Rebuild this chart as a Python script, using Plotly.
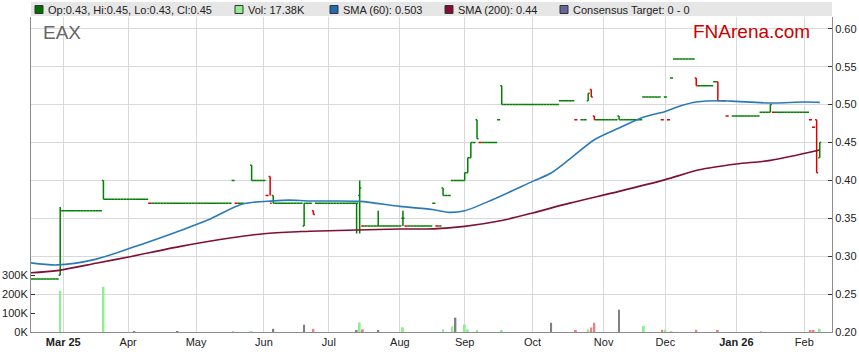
import pandas as pd
import plotly.graph_objects as go

# ---------------- data ----------------
days = pd.bdate_range("2025-02-17", "2026-02-09")  # weekday calendar of the chart

closes = [
    0.27, 0.27, 0.27, 0.27, 0.27,
    0.27, 0.27, 0.27, 0.27, 0.36,
    0.36, 0.36, 0.36, 0.36, 0.36,
    0.36, 0.36, 0.36, 0.36, 0.36,
    0.36, 0.36, 0.36, 0.375, 0.375,
    0.375, 0.375, 0.375, 0.375, 0.375,
    0.375, 0.375, 0.375, 0.375, 0.375,
    0.375, 0.375, 0.375, 0.37, 0.37,
    0.37, 0.37, 0.37, 0.37, 0.37,
    0.37, 0.37, 0.37, 0.37, 0.37,
    0.37, 0.37, 0.37, 0.37, 0.37,
    0.37, 0.37, 0.37, 0.37, 0.37,
    0.37, 0.37, 0.37, 0.37, 0.37,
    0.40, 0.37, 0.37, 0.37, None,
    None, 0.40, 0.40, 0.40, 0.40,
    0.40, 0.38, 0.37, 0.37, 0.37,
    0.37, 0.37, 0.37, 0.37, 0.37,
    0.37, 0.37, 0.37, 0.37, 0.37,
    0.37, 0.355, 0.37, 0.37, 0.37,
    0.37, 0.37, 0.37, 0.37, 0.37,
    0.37, 0.37, 0.37, 0.37, 0.37,
    0.37, 0.39, 0.34, 0.34, 0.34,
    0.34, 0.34, 0.34, 0.34, 0.34,
    0.34, 0.34, 0.34, 0.34, 0.34,
    0.35, 0.34, 0.34, 0.34, 0.34,
    0.34, 0.34, 0.34, 0.34, 0.34,
    0.37, 0.34, 0.34, 0.38, 0.38,
    0.38, 0.40, 0.40, 0.40, 0.40,
    0.41, 0.43, 0.45, 0.45, 0.455,
    0.45, 0.45, 0.45, 0.45, 0.45,
    0.45, 0.48, 0.50, 0.50, 0.50,
    0.50, 0.50, 0.50, 0.50, 0.50,
    0.50, 0.50, 0.50, 0.50, 0.50,
    0.50, 0.50, 0.50, 0.50, 0.50,
    0.50, 0.505, 0.505, 0.505, 0.505,
    0.505, 0.48, None, 0.48, 0.48,
    0.515, 0.51, 0.48, 0.48, 0.48,
    0.48, 0.48, 0.48, 0.48, 0.48,
    0.48, 0.48, 0.48, 0.48, 0.48,
    0.48, 0.48, 0.48, 0.51, 0.51,
    0.51, 0.51, 0.51, 0.51, 0.48,
    0.51, 0.48, 0.535, 0.56, 0.56,
    0.56, 0.56, 0.56, 0.56, 0.56,
    0.525, 0.525, 0.525, 0.525, 0.525,
    0.525, 0.53, 0.505, 0.505, 0.505,
    0.485, None, 0.485, 0.485, 0.485,
    0.485, 0.485, 0.485, 0.485, 0.485,
    0.485, 0.49, 0.49, 0.49, 0.50,
    0.49, 0.49, 0.49, 0.49, 0.49,
    0.49, 0.49, 0.49, 0.49, 0.49,
    0.49, 0.49, 0.48, 0.47, 0.41,
    0.45,
]

# days whose open/high/low differ from the close (all other days: O=H=L=C)
bar_dates = ["2025-02-28", "2025-03-20", "2025-05-27", "2025-06-04", "2025-06-05",
             "2025-06-19", "2025-06-24", "2025-07-14", "2025-07-15", "2025-07-23",
             "2025-08-04", "2025-08-21", "2025-09-01", "2025-09-02", "2025-09-03",
             "2025-09-05", "2025-09-17", "2025-10-27", "2025-10-28", "2025-10-29",
             "2025-11-10", "2025-12-15", "2025-12-24", "2026-01-16", "2026-02-06",
             "2026-02-09"]
bar_open = [0.275, 0.40, 0.42, 0.405, 0.38, 0.34, 0.36, 0.37, 0.38, 0.34,
            0.35, 0.39, 0.40, 0.41, 0.43, 0.48, 0.525, 0.505, 0.52, 0.485,
            0.485, 0.535, 0.53, 0.49, 0.48, 0.43]
bar_high = [0.365, 0.40, 0.42, 0.405, 0.38, 0.37, 0.36, 0.37, 0.40, 0.36,
            0.36, 0.39, 0.41, 0.43, 0.45, 0.48, 0.525, 0.515, 0.52, 0.485,
            0.485, 0.535, 0.53, 0.50, 0.48, 0.45]
bar_low = [0.275, 0.375, 0.40, 0.38, 0.37, 0.34, 0.355, 0.33, 0.33, 0.34,
           0.34, 0.38, 0.40, 0.41, 0.43, 0.455, 0.50, 0.505, 0.51, 0.48,
           0.48, 0.525, 0.505, 0.49, 0.41, 0.43]

vol_dates = ["2025-02-28", "2025-03-20", "2025-04-03", "2025-04-23", "2025-05-19",
             "2025-05-27", "2025-06-05", "2025-06-19", "2025-06-24", "2025-07-14",
             "2025-07-15", "2025-07-16", "2025-07-23", "2025-08-04", "2025-08-21",
             "2025-08-26", "2025-08-27", "2025-09-01", "2025-09-02", "2025-09-05",
             "2025-09-17", "2025-10-09", "2025-10-21", "2025-10-27", "2025-10-28",
             "2025-10-29", "2025-11-10", "2025-11-20", "2025-11-28", "2025-12-01",
             "2025-12-03", "2025-12-15", "2025-12-24", "2026-01-13", "2026-02-04",
             "2026-02-05", "2026-02-09"]
vol_values = [219000, 240000, 5000, 3000, 3000, 3000, 17000, 39000, 17000, 8000,
              51000, 14000, 6000, 25000, 14000, 30000, 76000, 39000, 14000, 7000,
              6000, 49000, 7000, 14000, 24000, 49000, 118000, 33000, 12000, 12000,
              5000, 12000, 6000, 5000, 6000, 6000, 17380]

sma60_dates = ["2025-02-14", "2025-02-27", "2025-03-17", "2025-04-02", "2025-04-24",
               "2025-05-07", "2025-05-22", "2025-06-05", "2025-06-12", "2025-06-23",
               "2025-07-15", "2025-08-01", "2025-08-18", "2025-08-25", "2025-09-01",
               "2025-09-12", "2025-10-01", "2025-10-09", "2025-10-17",
               "2025-10-29", "2025-11-10", "2025-11-20", "2025-12-01", "2025-12-08",
               "2025-12-15", "2025-12-25", "2026-01-01", "2026-01-16", "2026-02-02",
               "2026-02-09"]
sma60_values = [0.2925, 0.2885, 0.2955, 0.311, 0.334, 0.348, 0.369, 0.373, 0.374, 0.3728,
                0.3723, 0.3657, 0.3613, 0.3578, 0.360, 0.3745, 0.3987, 0.4098, 0.428,
                0.4537, 0.4691, 0.4836, 0.491, 0.4985, 0.5034, 0.5051, 0.5042, 0.5021, 0.5034,
                0.503]

sma200_dates = ["2025-02-14", "2025-02-27", "2025-03-18", "2025-04-02", "2025-04-24",
                "2025-05-16", "2025-06-02", "2025-06-18", "2025-06-23", "2025-08-01",
                "2025-08-18", "2025-09-01", "2025-09-17", "2025-10-01", "2025-10-17",
                "2025-11-10", "2025-12-01", "2025-12-16", "2026-01-01", "2026-01-16",
                "2026-02-09"]
sma200_values = [0.2775, 0.281, 0.291, 0.2997, 0.313, 0.324, 0.3297, 0.3325, 0.333, 0.3359,
                 0.336, 0.3393, 0.347, 0.357, 0.370, 0.3855, 0.401, 0.414, 0.4216, 0.4264,
                 0.44]

month_ticks = ["2025-03-03", "2025-04-01", "2025-05-01", "2025-06-02", "2025-07-01",
               "2025-08-01", "2025-09-01", "2025-10-01", "2025-11-03", "2025-12-01",
               "2026-01-01", "2026-02-02"]
month_labels = ["<b>Mar 25</b>", "Apr", "May", "Jun", "Jul", "Aug", "Sep", "Oct", "Nov",
                "Dec", "<b>Jan 26</b>", "Feb"]

price_ticks = [0.20, 0.25, 0.30, 0.35, 0.40, 0.45, 0.50, 0.55, 0.60]
vol_ticks = [0, 100000, 200000, 300000]
vol_labels = ["0K", "100K", "200K", "300K"]

legend_texts = ["Op:0.43, Hi:0.45, Lo:0.43, Cl:0.45", "Vol: 17.38K", "SMA (60): 0.503",
                "SMA (200): 0.44", "Consensus Target: 0 - 0"]

# ---------------- styles ----------------
GREEN = "#008000"
RED = "#e00000"
VOL_UP = "#90ee90"
VOL_DOWN = "#f08080"
VOL_FLAT = "#808080"
SMA60_C = "#2a7ab9"
SMA200_C = "#800f35"
GRID = "#d9d9d9"
AXIS = "#8c8c8c"
FONT = "Arial, Liberation Sans, sans-serif"
legend_colors = ["#007000", "#90ee90", "#1f6cb0", "#800f35", "#666699"]
legend_px = [35, 235, 330, 445, 560]

NOON = pd.Timedelta(hours=12)

# ---------------- build table ----------------
df = pd.DataFrame({"date": days, "close": closes})
df = df.dropna().reset_index(drop=True)
df["open"] = df["close"]
df["high"] = df["close"]
df["low"] = df["close"]
bars = pd.DataFrame({"date": pd.to_datetime(bar_dates), "o": bar_open, "h": bar_high, "l": bar_low})
df = df.merge(bars, on="date", how="left")
m = df["o"].notna()
df.loc[m, "open"] = df.loc[m, "o"]
df.loc[m, "high"] = df.loc[m, "h"]
df.loc[m, "low"] = df.loc[m, "l"]
df["prev"] = df["close"].shift(1)
df["up"] = (df["close"] >= df["prev"]) | df["prev"].isna()
df["x"] = df["date"] + NOON

vol = pd.DataFrame({"date": pd.to_datetime(vol_dates), "v": vol_values})
vol = vol.merge(df[["date", "close", "prev"]], on="date", how="left")
def vcol(r):
    if pd.isna(r["prev"]) or r["close"] > r["prev"]:
        return VOL_UP
    if r["close"] < r["prev"]:
        return VOL_DOWN
    return VOL_FLAT
vol["c"] = vol.apply(vcol, axis=1)

fig = go.Figure()

# volume (left axis)
fig.add_trace(go.Bar(x=vol["date"] + NOON, y=vol["v"], marker_color=vol["c"],
                     marker_line_width=0, width=0.62 * 86400000, yaxis="y2",
                     hoverinfo="skip", showlegend=False))

# SMA lines
fig.add_trace(go.Scatter(x=pd.to_datetime(sma200_dates) + NOON, y=sma200_values, mode="lines",
                         line=dict(color=SMA200_C, width=1.6, shape="spline", smoothing=0.8),
                         hoverinfo="skip", showlegend=False))
fig.add_trace(go.Scatter(x=pd.to_datetime(sma60_dates) + NOON, y=sma60_values, mode="lines",
                         line=dict(color=SMA60_C, width=1.6, shape="spline", smoothing=0.8),
                         hoverinfo="skip", showlegend=False))

# OHLC, coloured by close vs previous close
for sel, col in ((df["up"], GREEN), (~df["up"], RED)):
    d = df[sel]
    fig.add_trace(go.Ohlc(x=d["x"], open=d["open"], high=d["high"], low=d["low"], close=d["close"],
                          increasing=dict(line=dict(color=col, width=1.5)),
                          decreasing=dict(line=dict(color=col, width=1.5)),
                          tickwidth=0.5, hoverinfo="skip", showlegend=False))

# ---------------- layout ----------------
L, R, T, B = 31, 27, 17, 31
W, H = 859, 363
ph = H - T - B
pw = W - L - R
px_per_unit = 37.9 / 0.05
top_price = 0.20 + ph / px_per_unit
vol_top = ph / 18.87 * 100000

def px_x(X):
    return (X - L) / pw

def px_y(Y):
    return (H - B - Y) / ph

shapes = [dict(type="rect", xref="paper", yref="paper", x0=0, x1=1, y0=px_y(16), y1=px_y(2),
               fillcolor="#e6e6e6", line=dict(width=0), layer="below")]
annotations = []
for txt, col, X in zip(legend_texts, legend_colors, legend_px):
    shapes.append(dict(type="rect", xref="paper", yref="paper", x0=px_x(X), x1=px_x(X + 8),
                       y0=px_y(13.5), y1=px_y(5.5), fillcolor=col, line=dict(color="#333333", width=1)))
    annotations.append(dict(text=txt, xref="paper", yref="paper", x=px_x(X + 11), y=px_y(9.5),
                            xanchor="left", yanchor="middle", showarrow=False,
                            font=dict(family=FONT, size=11, color="#222222")))
annotations.append(dict(text="EAX", xref="paper", yref="paper", x=px_x(40.5), y=px_y(32.5),
                        xanchor="left", yanchor="middle", showarrow=False,
                        font=dict(family=FONT, size=19, color="#666666")))
annotations.append(dict(text="FNArena.com", xref="paper", yref="paper", x=px_x(690.5), y=px_y(31.5),
                        xanchor="left", yanchor="middle", showarrow=False,
                        font=dict(family=FONT, size=19, color="#cc0000")))

fig.update_layout(
    width=W, height=H,
    margin=dict(l=L, r=R, t=T, b=B, pad=0, autoexpand=False),
    paper_bgcolor="white", plot_bgcolor="white",
    showlegend=False,
    font=dict(family=FONT, size=11, color="#222222"),
    xaxis=dict(type="date", range=["2025-02-17 01:00", "2026-02-13 11:15"],
               rangebreaks=[dict(bounds=["sat", "mon"])],
               tickvals=[pd.Timestamp(t) + NOON for t in month_ticks], ticktext=month_labels,
               showgrid=True, gridcolor=GRID, gridwidth=1, automargin=False,
               showline=True, linecolor=AXIS, linewidth=1, ticks="", zeroline=False,
               rangeslider=dict(visible=False), fixedrange=True,
               tickfont=dict(family=FONT, size=11, color="#222222")),
    yaxis=dict(side="right", range=[0.20, top_price], tickvals=price_ticks, tickformat=".2f",
               showgrid=True, gridcolor=GRID, gridwidth=1, zeroline=False, automargin=False,
               showline=True, linecolor=AXIS, linewidth=1, fixedrange=True,
               ticks="inside", ticklen=4, tickcolor="#333333",
               tickfont=dict(family=FONT, size=11, color="#222222")),
    yaxis2=dict(side="left", overlaying="y", range=[0, vol_top], tickvals=vol_ticks,
                ticktext=vol_labels, showgrid=False, zeroline=False, automargin=False,
                showline=True, linecolor=AXIS, linewidth=1, fixedrange=True,
                ticks="inside", ticklen=4, tickcolor="#333333",
                tickfont=dict(family=FONT, size=11, color="#222222")),
    shapes=shapes, annotations=annotations,
)

fig.write_html("out.html", config={"displayModeBar": False},
               post_script="document.body.style.margin='0';")
